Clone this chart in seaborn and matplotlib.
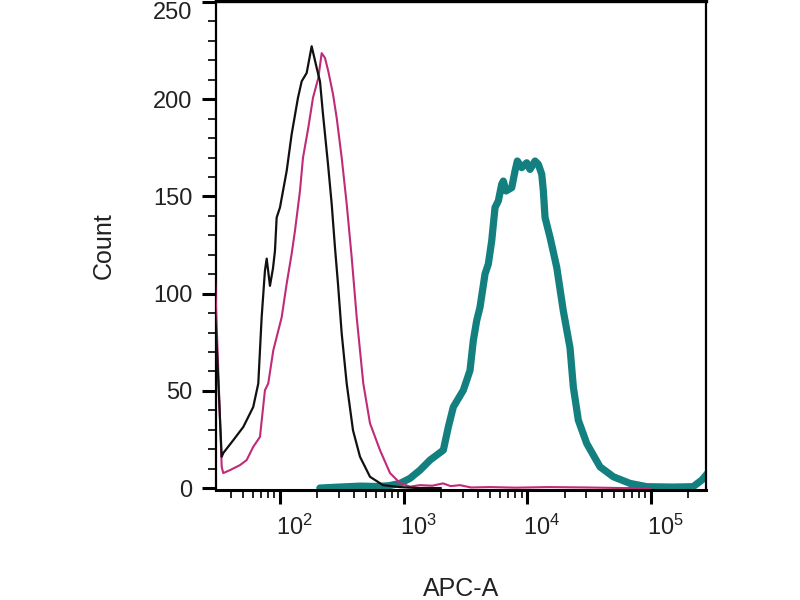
import matplotlib
matplotlib.use("Agg")
import matplotlib.pyplot as plt
import numpy as np
import pandas as pd
import seaborn as sns
from matplotlib.ticker import LogLocator, MultipleLocator, NullFormatter, LogFormatterSciNotation, FixedLocator
from matplotlib.transforms import ScaledTranslation

# ---------------- data ----------------
black_x = [29, 33.8, 34.8, 41.9, 50.5, 60.8, 66.8, 71.1, 75.6, 78.1, 83.0, 87.8, 91.1, 94.0, 100,
           113.3, 124.3, 139.8, 149.8, 164.4, 180.4, 198.1, 210.6, 222.7, 244.4, 261.8, 278.5,
           294.4, 315.5, 346.2, 389.4, 443.6, 534.3, 680.6, 933.9, 1300, 2000]
black_y = [110, 16.1, 18.0, 24.6, 31.4, 41.7, 53.8, 87.8, 111.8, 118.0, 104.0, 113.0, 122.0, 139.1, 144.3,
           163.1, 182.0, 200.7, 209.2, 213.5, 227.2, 216.1, 209.2, 192.3, 166.7, 146.2, 123.6,
           105.1, 79.5, 53.8, 29.7, 16.1, 5.8, 1.5, 0.5, 0, 0]

magenta_x = [29, 33.8, 34.8, 39.4, 47.5, 53.8, 60.8, 68.9, 75.6, 80.4, 88.3, 103.2, 113.3, 124.3,
             132.2, 145.1, 153.5, 169.4, 184.9, 204.1, 217.4, 231.2, 245.8, 268.4, 287.4, 315.5,
             346.2, 380.1, 417.2, 471.6, 534.3, 643.6, 775.5, 933.9, 1125, 1355, 1700, 2080, 2400,
             2853, 3500, 5000, 8000, 15000, 30000, 60000, 100000]
magenta_y = [130, 10.9, 7.7, 9.2, 11.8, 14.4, 21.2, 26.3, 50.3, 53.8, 70.8, 87.8, 105.1, 120.5,
             132.3, 152.8, 169.9, 185.3, 200.7, 210.9, 223.7, 221.2, 214.4, 202.6, 190.4, 169.9,
             146.2, 118.6, 87.8, 53.8, 33.3, 19.5, 7.7, 2.6, 0.7, 1.5, 1.2, 2.4, 1.0,
             1.5, 0.3, 0.5, 0.2, 0.5, 0.3, 0, 0]

teal_x = [210, 300, 450, 600, 760, 933.9, 1125, 1355, 1633, 2092, 2296, 2520, 3035, 3438, 3656,
          3895, 4141, 4546, 4834, 5150, 5477, 5825, 6203, 6390, 6720, 7472, 7948, 8297, 9003,
          9880, 10508, 11533, 12263, 13068, 13466, 13897, 15257, 17280, 19537, 22131, 23533,
          25822, 30200, 38680, 49560, 67620, 92290, 150000, 218600, 257000, 290000]
teal_y = [0, 0.5, 1.0, 0.8, 1.2, 2.4, 5.0, 9.2, 14.4, 19.5, 31.4, 41.7, 50.3, 60.5, 75.9,
          86.2, 93.0, 110.1, 115.2, 127.2, 144.3, 147.7, 156.3, 157.9, 152.8, 154.5, 163.1, 168.2, 164.8,
          167.3, 163.9, 168.2, 166.5, 161.4, 152.8, 139.1, 128.9, 113.5, 91.0, 72.0, 51.9,
          34.9, 22.9, 10.9, 5.8, 2.4, 0.7, 0.5, 0.7, 4.1, 8.0]

y_ticks = [0, 50, 100, 150, 200, 250]
y_tick_labels = ["0", "50", "100", "150", "200", "250"]
x_label = "APC-A"
y_label = "Count"

# ---------------- style ----------------
sns.set_style("ticks")
plt.rcParams["font.family"] = ["Liberation Sans", "DejaVu Sans"]
plt.rcParams["mathtext.fontset"] = "custom"
plt.rcParams["mathtext.rm"] = "Liberation Sans"
plt.rcParams["mathtext.it"] = "Liberation Sans"
plt.rcParams["mathtext.bf"] = "Liberation Sans"

fig = plt.figure(figsize=(8, 6), dpi=100)
ax = fig.add_axes([0.27, 0.18333, 0.6125, 0.815])

teal_df = pd.DataFrame({"x": teal_x, "y": teal_y})
mag_df = pd.DataFrame({"x": magenta_x, "y": magenta_y})
blk_df = pd.DataFrame({"x": black_x, "y": black_y})

sns.lineplot(data=teal_df, x="x", y="y", ax=ax, color="#13807f", linewidth=5.2,
             estimator=None, sort=False, solid_joinstyle="round", zorder=2)
sns.lineplot(data=mag_df, x="x", y="y", ax=ax, color="#c02a78", linewidth=1.5,
             estimator=None, sort=False, zorder=3)
sns.lineplot(data=blk_df, x="x", y="y", ax=ax, color="#111111", linewidth=1.6,
             estimator=None, sort=False, zorder=4)

ax.set_xscale("log")
ax.set_xlim(30.4, 278000)
ax.set_ylim(-1.0, 250.5)

# y ticks
ax.yaxis.set_major_locator(FixedLocator(y_ticks))
ax.set_yticklabels(y_tick_labels)
ax.yaxis.set_minor_locator(MultipleLocator(10))

# x ticks
ax.xaxis.set_major_locator(LogLocator(base=10, numticks=12))
ax.xaxis.set_major_formatter(LogFormatterSciNotation())
ax.xaxis.set_minor_locator(LogLocator(base=10, subs=np.arange(2, 10), numticks=12))
ax.xaxis.set_minor_formatter(NullFormatter())

ax.tick_params(axis="both", which="major", direction="out", length=10, width=2.2,
               color="black", labelsize=17, labelcolor="#222222")
ax.tick_params(axis="x", which="major", pad=8)
ax.tick_params(axis="y", which="major", pad=7)
ax.tick_params(axis="both", which="minor", direction="out", length=6, width=1.2, color="black")

for lab in ax.get_xticklabels():
    lab.set_horizontalalignment("left")
    lab.set_transform(lab.get_transform() + ScaledTranslation(-4 / 100, 0, fig.dpi_scale_trans))
ax.get_yticklabels()[-1].set_verticalalignment("top")

for side in ["left", "right", "top", "bottom"]:
    ax.spines[side].set_visible(True)
    ax.spines[side].set_color("black")
    ax.spines[side].set_linewidth(1.6)
ax.spines["bottom"].set_linewidth(2.2)
ax.spines["top"].set_linewidth(2.4)

ax.set_xlabel(x_label, fontsize=18, color="#222222")
ax.set_ylabel(y_label, fontsize=18, color="#222222")
ax.xaxis.set_label_coords(0.5, -0.177)
ax.yaxis.set_label_coords(-0.205, 0.5)

fig.savefig("out.png", dpi=100)
